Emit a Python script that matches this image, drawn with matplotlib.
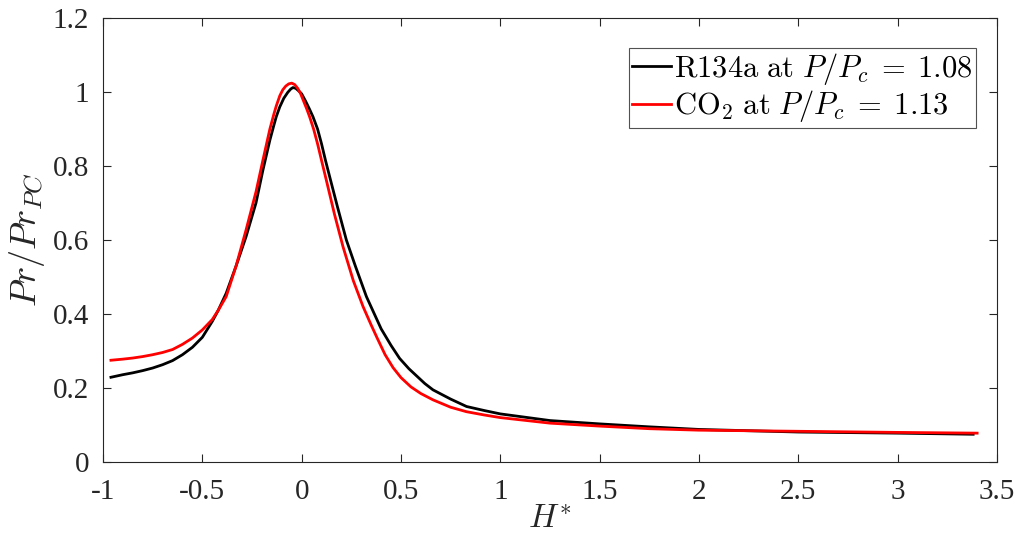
import matplotlib
matplotlib.use("Agg")
import matplotlib.pyplot as plt

# Normalised Prandtl number vs. non-dimensional enthalpy
h_r134a = [-0.96, -0.9, -0.85, -0.8, -0.75, -0.7, -0.65, -0.6, -0.55, -0.5,
           -0.45, -0.42, -0.38, -0.33, -0.28, -0.23, -0.195, -0.16, -0.14,
           -0.128, -0.11, -0.09, -0.07, -0.055, -0.044, -0.03, -0.015, 0.0,
           0.02, 0.04, 0.057, 0.08, 0.10, 0.12, 0.141, 0.18, 0.225, 0.27,
           0.326, 0.40, 0.45, 0.493, 0.54, 0.58, 0.62, 0.661, 0.75, 0.83, 0.92,
           1.0, 1.25, 1.5, 1.75, 2.0, 2.5, 3.0, 3.38]
pr_r134a = [0.229, 0.236, 0.241, 0.247, 0.254, 0.263, 0.274, 0.29, 0.31, 0.337,
            0.38, 0.41, 0.456, 0.53, 0.609, 0.70, 0.789, 0.87, 0.91,
            0.933, 0.96, 0.983, 0.999, 1.008, 1.012, 1.01, 1.003, 0.995,
            0.975, 0.953, 0.933, 0.90, 0.86, 0.815, 0.771, 0.69, 0.60, 0.53,
            0.447, 0.36, 0.315, 0.28, 0.252, 0.232, 0.212, 0.195, 0.17, 0.15, 0.139,
            0.13, 0.112, 0.103, 0.095, 0.088, 0.081, 0.078, 0.075]

h_co2 = [-0.96, -0.9, -0.85, -0.8, -0.75, -0.7, -0.65, -0.6, -0.55, -0.5,
         -0.45, -0.42, -0.38, -0.33, -0.28, -0.23, -0.195, -0.16, -0.14,
         -0.128, -0.11, -0.095, -0.08, -0.065, -0.05, -0.035, -0.02, -0.005,
         0.01, 0.025, 0.04, 0.06, 0.08, 0.10, 0.124, 0.165, 0.208, 0.26, 0.309,
         0.35, 0.38, 0.42, 0.46, 0.50, 0.55, 0.60, 0.661, 0.75, 0.829, 0.92,
         1.0, 1.25, 1.5, 1.75, 2.0, 2.5, 3.0, 3.4]
pr_co2 = [0.275, 0.278, 0.281, 0.285, 0.29, 0.296, 0.304, 0.318, 0.335, 0.357,
          0.385, 0.41, 0.447, 0.53, 0.627, 0.73, 0.816, 0.90, 0.94,
          0.962, 0.99, 1.006, 1.016, 1.022, 1.024, 1.02, 1.01, 0.995,
          0.975, 0.955, 0.933, 0.90, 0.86, 0.815, 0.762, 0.67, 0.582, 0.49, 0.42,
          0.37, 0.335, 0.29, 0.255, 0.228, 0.203, 0.185, 0.168, 0.148, 0.136, 0.127,
          0.12, 0.105, 0.097, 0.09, 0.086, 0.083, 0.08, 0.078]

labels = [r"$\mathrm{R134a\ at\ }P/P_c\;=\;1.08$",
          r"$\mathrm{CO_2\ at\ }P/P_c\;=\;1.13$"]

xticks = [-1, -0.5, 0, 0.5, 1, 1.5, 2, 2.5, 3, 3.5]
xticklabels = ["-1", "-0.5", "0", "0.5", "1", "1.5", "2", "2.5", "3", "3.5"]
yticks = [0, 0.2, 0.4, 0.6, 0.8, 1.0, 1.2]
yticklabels = ["0", "0.2", "0.4", "0.6", "0.8", "1", "1.2"]

plt.rcParams["font.family"] = ["Liberation Serif", "DejaVu Serif"]
plt.rcParams["mathtext.fontset"] = "cm"

axis_col = "#262626"
fig = plt.figure(figsize=(10.19, 5.39), dpi=100)
ax = fig.add_axes([103 / 1019, 1 - 462 / 539, 894 / 1019, 444 / 539])

ax.plot(h_r134a, pr_r134a, color="black", lw=2.0, label=labels[0])
ax.plot(h_co2, pr_co2, color="#ff0000", lw=2.0, label=labels[1])

ax.set_xlim(-1, 3.5)
ax.set_ylim(0, 1.2)
ax.set_xticks(xticks)
ax.set_xticklabels(xticklabels)
ax.set_yticks(yticks)
ax.set_yticklabels(yticklabels)
ax.tick_params(direction="in", top=True, right=True, length=6, width=0.8,
               colors=axis_col, labelsize=21)
ax.tick_params(axis="x", pad=12)
ax.tick_params(axis="y", pad=10)
for s in ax.spines.values():
    s.set_color(axis_col)
    s.set_linewidth(0.8)

ax.set_xlabel(r"$H^{*}$", fontsize=24, color=axis_col, labelpad=0)
ax.set_ylabel(r"$Pr/Pr_{PC}$", fontsize=26, color=axis_col, labelpad=4)

leg = ax.legend(loc="upper right", bbox_to_anchor=(0.9765, 0.9327), fontsize=22,
                frameon=True, fancybox=False, edgecolor=axis_col,
                handlelength=1.3, handletextpad=0.1, borderpad=0.1,
                labelspacing=0.05, borderaxespad=0.0)
leg.get_frame().set_linewidth(0.8)

fig.savefig("out.png", dpi=100)
